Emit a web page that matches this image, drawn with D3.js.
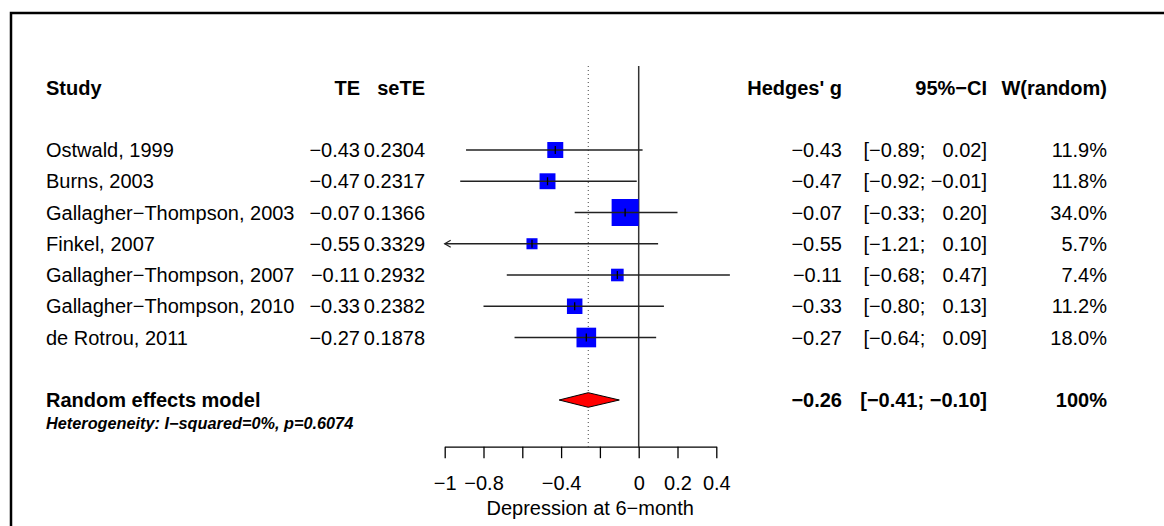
<!DOCTYPE html>
<html>
<head>
<meta charset="utf-8">
<script src="https://cdn.jsdelivr.net/npm/d3@7"></script>
<style>
  body { margin: 0; background: #fff; }
  svg text { font-family: "Liberation Sans", Arial, Helvetica, sans-serif; fill: #000; }
</style>
</head>
<body>
<div id="forest"></div>
<script>
// study level data
const studies = ["Ostwald, 1999", "Burns, 2003", "Gallagher\u2212Thompson, 2003", "Finkel, 2007",
                 "Gallagher\u2212Thompson, 2007", "Gallagher\u2212Thompson, 2010", "de Rotrou, 2011"];
const te = [-0.43, -0.47, -0.07, -0.55, -0.11, -0.33, -0.27];
const seTE = [0.2304, 0.2317, 0.1366, 0.3329, 0.2932, 0.2382, 0.1878];
const ciLower = [-0.89, -0.92, -0.33, -1.21, -0.68, -0.80, -0.64];
const ciUpper = [0.02, -0.01, 0.20, 0.10, 0.47, 0.13, 0.09];
const weights = [11.9, 11.8, 34.0, 5.7, 7.4, 11.2, 18.0];

// pooled (random effects) result
const pooled = [-0.26, -0.41, -0.10];   // estimate, lower, upper
const hetText = "Heterogeneity: I\u2212squared=0%, p=0.6074";

// axis
const tickValues = [-1, -0.8, -0.6, -0.4, -0.2, 0, 0.2, 0.4];
const tickLabels = ["\u22121", "\u22120.8", "", "\u22120.4", "", "0", "0.2", "0.4"];
const xLabel = "Depression at 6\u2212month";

const width = 1164, height = 526;
const fs = 20;
const fmt2 = d3.format(".2f"), fmt4 = d3.format(".4f"), fmt1 = d3.format(".1f");

const svg = d3.select("#forest").append("svg")
    .attr("width", width)
    .attr("height", height);

// frame (cut off at the right and bottom in the original)
svg.append("rect")
    .attr("x", 11).attr("y", 13)
    .attr("width", 1300).attr("height", 700)
    .attr("fill", "none")
    .attr("stroke", "#000")
    .attr("stroke-width", 2.5);

const x = d3.scaleLinear().domain([-1, 0.4]).range([444.7, 716.3]);
const rowY = k => 87.5 + 31.25 * k;
const boxSize = d3.scaleSqrt().domain([0, 34]).range([0, 27]);
const axisY = 446.7;
const lineTop = 66;

function addText(xp, y, txt, anchor, bold, size, italic) {
    return svg.append("text")
        .attr("x", xp)
        .attr("y", y)
        .attr("dy", "0.36em")
        .attr("text-anchor", anchor)
        .style("font-size", (size || fs) + "px")
        .style("font-weight", bold ? "bold" : "normal")
        .style("font-style", italic ? "italic" : "normal")
        .style("white-space", "pre")
        .text(txt);
}

// confidence interval text, positives padded with an invisible minus
function addCI(xp, y, lo, hi, bold) {
    const t = addText(xp, y, "", "end", bold);
    const part = (v) => {
        if (v >= 0) t.append("tspan").attr("fill-opacity", 0).text("\u2212");
        t.append("tspan").text(fmt2(v));
    };
    t.append("tspan").text("[");
    part(lo);
    t.append("tspan").text("; ");
    part(hi);
    t.append("tspan").text("]");
}

// column positions
const col = {study: 46, te: 360, se: 425, g: 842, ci: 987, w: 1107};

// header
addText(col.study, rowY(0), "Study", "start", true);
addText(col.te, rowY(0), "TE", "end", true);
addText(col.se, rowY(0), "seTE", "end", true);
addText(col.g, rowY(0), "Hedges' g", "end", true);
addText(col.ci, rowY(0), "95%\u2212CI", "end", true);
addText(col.w, rowY(0), "W(random)", "end", true);

// reference lines
svg.append("line")
    .attr("x1", x(0)).attr("x2", x(0))
    .attr("y1", lineTop).attr("y2", axisY)
    .attr("stroke", "#333").attr("stroke-width", 1.5);
svg.append("line")
    .attr("x1", x(pooled[0])).attr("x2", x(pooled[0]))
    .attr("y1", lineTop).attr("y2", axisY)
    .attr("stroke", "#444").attr("stroke-width", 1)
    .attr("stroke-dasharray", "1,3");

// study rows
studies.forEach((name, i) => {
    const y = rowY(i + 2);
    addText(col.study, y, name, "start", false);
    addText(col.te, y, fmt2(te[i]), "end", false);
    addText(col.se, y, fmt4(seTE[i]), "end", false);
    addText(col.g, y, fmt2(te[i]), "end", false);
    addCI(col.ci, y, ciLower[i], ciUpper[i], false);
    addText(col.w, y, fmt1(weights[i]) + "%", "end", false);

    const s = boxSize(weights[i]);
    svg.append("rect")
        .attr("x", x(te[i]) - s / 2).attr("y", y - s / 2)
        .attr("width", s).attr("height", s)
        .attr("fill", "#0000ff");

    const lo = Math.max(ciLower[i], x.domain()[0]);
    svg.append("line")
        .attr("x1", x(lo)).attr("x2", x(ciUpper[i]))
        .attr("y1", y).attr("y2", y)
        .attr("stroke", "#222").attr("stroke-width", 1.4);
    if (ciLower[i] < x.domain()[0]) {
        svg.append("path")
            .attr("d", "M" + (x(lo) + 6) + "," + (y - 3.5) + "L" + x(lo) + "," + y + "L" + (x(lo) + 6) + "," + (y + 3.5))
            .attr("fill", "none").attr("stroke", "#222").attr("stroke-width", 1.2);
    }
    svg.append("line")
        .attr("x1", x(te[i])).attr("x2", x(te[i]))
        .attr("y1", y - 4).attr("y2", y + 4)
        .attr("stroke", "#000").attr("stroke-width", 1.3);
});

// pooled row
const yM = rowY(10);
addText(col.study, yM, "Random effects model", "start", true);
addText(col.g, yM, fmt2(pooled[0]), "end", true);
addCI(col.ci, yM, pooled[1], pooled[2], true);
addText(col.w, yM, "100%", "end", true);
svg.append("path")
    .attr("d", "M" + x(pooled[1]) + "," + yM +
               "L" + x(pooled[0]) + "," + (yM - 7.3) +
               "L" + x(pooled[2]) + "," + yM +
               "L" + x(pooled[0]) + "," + (yM + 7.3) + "Z")
    .attr("fill", "#ff0000")
    .attr("stroke", "#000").attr("stroke-width", 1);

addText(col.study, 423, hetText, "start", true, 16.3, true);

// x axis
const axis = svg.append("g")
    .attr("transform", "translate(0," + axisY + ")")
    .call(d3.axisBottom(x)
        .tickValues(tickValues)
        .tickFormat((d, i) => tickLabels[i])
        .tickSize(11.5)
        .tickPadding(18)
        .tickSizeOuter(0));
axis.select(".domain").attr("stroke", "#000").attr("stroke-width", 1.3);
axis.selectAll(".tick line").attr("stroke", "#000").attr("stroke-width", 1.3);
axis.selectAll(".tick text")
    .style("font-size", fs + "px")
    .style("font-family", "\"Liberation Sans\", Arial, Helvetica, sans-serif")
    .attr("fill", "#000");

svg.append("text")
    .attr("x", x(-0.25))
    .attr("y", 508)
    .attr("dy", "0.36em")
    .attr("text-anchor", "middle")
    .style("font-size", fs + "px")
    .text(xLabel);
</script>
</body>
</html>
